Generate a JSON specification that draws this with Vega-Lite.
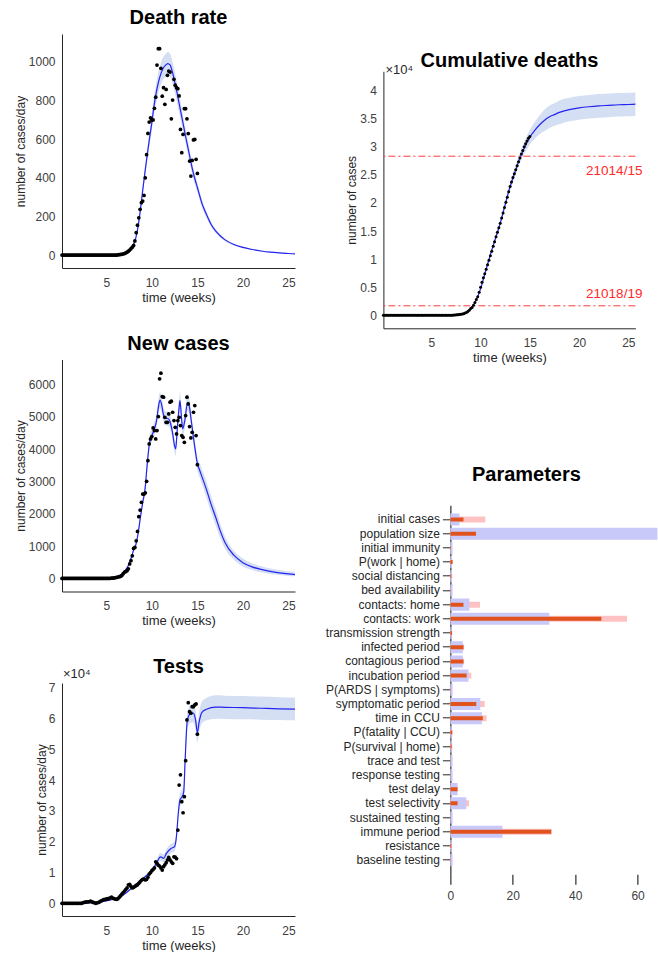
{
"$schema": "https://vega.github.io/schema/vega-lite/v6.json",
"padding": {"left": 14, "top": 8, "right": 0, "bottom": 0},
"config": {
  "font": "Liberation Sans",
  "view": {"stroke": null},
  "title": {"fontSize": 20, "fontWeight": "bold", "color": "#000000", "baseline": "alphabetic", "frame": "group", "anchor": "middle", "font": "Liberation Sans"},
  "axis": {"grid": false, "ticks": false, "domainColor": "#262626", "labelColor": "#404040", "labelFontSize": 12, "titleFontWeight": "normal", "titleColor": "#262626", "labelFont": "Liberation Sans", "titleFont": "Liberation Sans", "labelFlush": false, "labelOverlap": false, "tickCount": 30},
  "axisX": {"labelPadding": 9, "titlePadding": 3, "titleFontSize": 13},
  "axisY": {"labelPadding": 7, "titlePadding": 1, "titleFontSize": 12}
},
"datasets": {
"obs": [
{"t":0.143,"d":0,"n":0,"x":0,"c":0},{"t":0.286,"d":0,"n":0,"x":0,"c":0},{"t":0.429,"d":0,"n":0,"x":0,"c":0},{"t":0.571,"d":0,"n":0,"x":0,"c":0},{"t":0.714,"d":0,"n":0,"x":0,"c":0},{"t":0.857,"d":0,"n":0,"x":0,"c":0},{"t":1,"d":0,"n":0,"x":0,"c":0},
{"t":1.143,"d":0,"n":0,"x":0,"c":0},{"t":1.286,"d":0,"n":0,"x":0,"c":0},{"t":1.429,"d":0,"n":0,"x":0,"c":0},{"t":1.571,"d":0,"n":0,"x":0,"c":0},{"t":1.714,"d":0,"n":0,"x":0,"c":0},{"t":1.857,"d":0,"n":0,"x":0,"c":0},{"t":2,"d":0,"n":0,"x":0,"c":0},
{"t":2.143,"d":0,"n":0,"x":0,"c":0},{"t":2.286,"d":0,"n":0,"x":0,"c":0},{"t":2.429,"d":0,"n":0,"x":0.02,"c":0},{"t":2.571,"d":0,"n":0,"x":0.03,"c":0},{"t":2.714,"d":0,"n":0,"x":0.04,"c":0},{"t":2.857,"d":0,"n":0,"x":0.05,"c":0},{"t":3,"d":0,"n":0,"x":0.05,"c":0},
{"t":3.143,"d":0,"n":0,"x":0.06,"c":0},{"t":3.286,"d":0,"n":0,"x":0.07,"c":0},{"t":3.429,"d":0,"n":0,"x":0.05,"c":0},{"t":3.571,"d":0,"n":0,"x":0.03,"c":0},{"t":3.714,"d":0,"n":0,"x":0.02,"c":0},{"t":3.857,"d":0,"n":0,"x":0,"c":0},{"t":4,"d":0,"n":0,"x":0.02,"c":0},
{"t":4.143,"d":0,"n":0,"x":0.03,"c":0},{"t":4.286,"d":0,"n":0,"x":0.05,"c":0},{"t":4.429,"d":0,"n":0,"x":0.08,"c":0},{"t":4.571,"d":0,"n":0,"x":0.1,"c":0},{"t":4.714,"d":0,"n":0,"x":0.12,"c":0},{"t":4.857,"d":0,"n":0,"x":0.13,"c":0},{"t":5,"d":0,"n":0,"x":0.14,"c":0},
{"t":5.143,"d":0,"n":0,"x":0.15,"c":0},{"t":5.286,"d":0,"n":0,"x":0.15,"c":0},{"t":5.429,"d":0,"n":5,"x":0.18,"c":0},{"t":5.571,"d":0,"n":8,"x":0.2,"c":0},{"t":5.714,"d":0,"n":12,"x":0.17,"c":0},{"t":5.857,"d":0,"n":18,"x":0.15,"c":0},{"t":6,"d":0,"n":25,"x":0.14,"c":0},
{"t":6.143,"d":0,"n":35,"x":0.13,"c":0},{"t":6.286,"d":1,"n":45,"x":0.15,"c":0},{"t":6.429,"d":2,"n":55,"x":0.2,"c":0.001},{"t":6.571,"d":3,"n":65,"x":0.25,"c":0.001},{"t":6.714,"d":4,"n":90,"x":0.3,"c":0.002},{"t":6.857,"d":6,"n":150,"x":0.35,"c":0.002},{"t":7,"d":8,"n":200,"x":0.4,"c":0.003},
{"t":7.143,"d":11,"n":210,"x":0.45,"c":0.004},{"t":7.286,"d":15,"n":240,"x":0.5,"c":0.005},{"t":7.429,"d":20,"n":300,"x":0.6,"c":0.007},{"t":7.571,"d":26,"n":450,"x":0.62,"c":0.009},{"t":7.714,"d":33,"n":550,"x":0.55,"c":0.012},{"t":7.857,"d":41,"n":702,"x":0.5,"c":0.015},{"t":8,"d":50,"n":929,"x":0.52,"c":0.02},
{"t":8.143,"d":73,"n":960,"x":0.55,"c":0.025},{"t":8.286,"d":116,"n":1167,"x":0.58,"c":0.03},{"t":8.429,"d":155,"n":1456,"x":0.6,"c":0.04},{"t":8.571,"d":193,"n":1911,"x":0.65,"c":0.05},{"t":8.714,"d":237,"n":2117,"x":0.7,"c":0.07},{"t":8.857,"d":271,"n":2355,"x":0.75,"c":0.09},{"t":9,"d":280,"n":2613,"x":0.78,"c":0.12},
{"t":9.143,"d":309,"n":2613,"x":0.79,"c":0.14},{"t":9.286,"d":400,"n":2650,"x":0.76,"c":0.18},{"t":9.429,"d":520,"n":3005,"x":0.78,"c":0.23},{"t":9.571,"d":630,"n":3646,"x":0.85,"c":0.28},{"t":9.714,"d":689,"n":4162,"x":0.95,"c":0.33},{"t":9.857,"d":711,"n":4317,"x":1.0,"c":0.41},{"t":10,"d":699,"n":4389,"x":1.06,"c":0.5},
{"t":10.143,"d":700,"n":4658,"x":1.1,"c":0.59},{"t":10.286,"d":760,"n":4575,"x":1.15,"c":0.67},{"t":10.429,"d":818,"n":4317,"x":1.35,"c":0.74},{"t":10.571,"d":984,"n":4575,"x":1.3,"c":0.82},{"t":10.714,"d":1069,"n":5009,"x":1.24,"c":0.9},{"t":10.857,"d":1069,"n":6176,"x":1.21,"c":0.98},{"t":11,"d":967,"n":6351,"x":1.15,"c":1.06},
{"t":11.143,"d":823,"n":5628,"x":1.08,"c":1.14},{"t":11.286,"d":867,"n":5608,"x":1.19,"c":1.23},{"t":11.429,"d":781,"n":4988,"x":1.25,"c":1.31},{"t":11.571,"d":858,"n":4833,"x":1.32,"c":1.4},{"t":11.714,"d":931,"n":4833,"x":1.41,"c":1.48},{"t":11.857,"d":953,"n":5091,"x":1.49,"c":1.56},{"t":12,"d":948,"n":5453,"x":1.41,"c":1.64},
{"t":12.143,"d":706,"n":5484,"x":1.35,"c":1.73},{"t":12.286,"d":803,"n":5143,"x":1.3,"c":1.82},{"t":12.429,"d":910,"n":4885,"x":1.51,"c":1.92},{"t":12.571,"d":880,"n":4678,"x":1.5,"c":2.01},{"t":12.714,"d":867,"n":4472,"x":1.45,"c":2.1},{"t":12.857,"d":862,"n":4885,"x":2.38,"c":2.2},{"t":13,"d":824,"n":4988,"x":3.84,"c":2.29},
{"t":13.143,"d":651,"n":4730,"x":4.17,"c":2.37},{"t":13.286,"d":530,"n":4420,"x":3.3,"c":2.45},{"t":13.429,"d":625,"n":4368,"x":2.94,"c":2.52},{"t":13.571,"d":758,"n":4214,"x":3.46,"c":2.59},{"t":13.714,"d":758,"n":5040,"x":4.63,"c":2.66},{"t":13.857,"d":706,"n":5608,"x":5.95,"c":2.73},{"t":14,"d":629,"n":5401,"x":6.51,"c":2.8},
{"t":14.143,"d":487,"n":4699,"x":6.22,"c":2.87},{"t":14.286,"d":409,"n":4348,"x":6.17,"c":2.93},{"t":14.429,"d":490,"n":4523,"x":6.38,"c":3.0},{"t":14.571,"d":596,"n":5143,"x":6.38,"c":3.05},{"t":14.714,"d":599,"n":5350,"x":6.44,"c":3.1},{"t":14.857,"d":496,"n":4420,"x":6.47,"c":3.15},{"t":15,"d":423,"n":3522,"x":5.49,"c":3.18}
],
"md": [
{"t":0.143,"m":0,"lo":0,"hi":0},{"t":2,"m":0,"lo":0,"hi":0},{"t":4,"m":0,"lo":0,"hi":0},{"t":5,"m":0,"lo":0,"hi":0},{"t":5.5,"m":1,"lo":1,"hi":1},{"t":6,"m":2,"lo":2,"hi":2},{"t":6.5,"m":5,"lo":5,"hi":5},{"t":7,"m":10,"lo":9,"hi":11},{"t":7.5,"m":25,"lo":23,"hi":27},{"t":8,"m":55,"lo":51,"hi":59},{"t":8.25,"m":90,"lo":84,"hi":96},{"t":8.5,"m":150,"lo":141,"hi":159},{"t":8.75,"m":235,"lo":221,"hi":249},{"t":9,"m":335,"lo":315,"hi":355},{"t":9.25,"m":430,"lo":404,"hi":456},{"t":9.5,"m":520,"lo":489,"hi":551},{"t":9.75,"m":605,"lo":569,"hi":641},{"t":10,"m":685,"lo":644,"hi":726},{"t":10.25,"m":775,"lo":729,"hi":821},{"t":10.5,"m":845,"lo":794,"hi":896},{"t":10.75,"m":900,"lo":846,"hi":954},{"t":11,"m":940,"lo":884,"hi":996},{"t":11.25,"m":968,"lo":910,"hi":1026},{"t":11.5,"m":983,"lo":924,"hi":1042},{"t":11.75,"m":992,"lo":932,"hi":1052},{"t":12,"m":985,"lo":926,"hi":1044},{"t":12.25,"m":950,"lo":893,"hi":1007},{"t":12.5,"m":900,"lo":846,"hi":954},{"t":12.75,"m":845,"lo":794,"hi":896},{"t":13,"m":785,"lo":738,"hi":832},{"t":13.25,"m":725,"lo":682,"hi":769},{"t":13.5,"m":665,"lo":625,"hi":705},{"t":13.75,"m":605,"lo":569,"hi":641},{"t":14,"m":548,"lo":513,"hi":583},{"t":14.25,"m":490,"lo":458,"hi":522},{"t":14.5,"m":436,"lo":406,"hi":466},{"t":14.75,"m":390,"lo":362,"hi":418},{"t":15,"m":350,"lo":324,"hi":376},{"t":15.5,"m":268,"lo":247,"hi":289},{"t":16,"m":210,"lo":193,"hi":227},{"t":16.5,"m":160,"lo":147,"hi":173},{"t":17,"m":125,"lo":115,"hi":135},{"t":17.5,"m":100,"lo":92,"hi":108},{"t":18,"m":80,"lo":73,"hi":87},{"t":19,"m":55,"lo":50,"hi":60},{"t":20,"m":40,"lo":36,"hi":44},{"t":21,"m":29,"lo":26,"hi":32},{"t":22,"m":21,"lo":19,"hi":23},{"t":23,"m":15,"lo":13,"hi":17},{"t":24,"m":11,"lo":10,"hi":12},{"t":25,"m":8,"lo":7,"hi":9},{"t":25.714,"m":6,"lo":5,"hi":7}
],
"mc": [
{"t":0.143,"m":0,"lo":0,"hi":0},{"t":2,"m":0,"lo":0,"hi":0},{"t":4,"m":0,"lo":0,"hi":0},{"t":6,"m":0.001,"lo":0.001,"hi":0.001},{"t":7,"m":0.005,"lo":0.004,"hi":0.006},{"t":7.5,"m":0.012,"lo":0.01,"hi":0.014},{"t":8,"m":0.025,"lo":0.022,"hi":0.028},{"t":8.5,"m":0.05,"lo":0.045,"hi":0.055},{"t":9,"m":0.12,"lo":0.11,"hi":0.13},{"t":9.5,"m":0.25,"lo":0.235,"hi":0.265},{"t":10,"m":0.47,"lo":0.45,"hi":0.49},{"t":10.5,"m":0.78,"lo":0.75,"hi":0.81},{"t":11,"m":1.08,"lo":1.05,"hi":1.11},{"t":11.5,"m":1.36,"lo":1.32,"hi":1.4},{"t":12,"m":1.64,"lo":1.59,"hi":1.69},{"t":12.5,"m":1.97,"lo":1.91,"hi":2.03},{"t":13,"m":2.29,"lo":2.22,"hi":2.36},{"t":13.5,"m":2.55,"lo":2.47,"hi":2.63},{"t":14,"m":2.8,"lo":2.71,"hi":2.89},{"t":14.5,"m":3.0,"lo":2.89,"hi":3.11},{"t":15,"m":3.17,"lo":3.04,"hi":3.3},{"t":15.5,"m":3.29,"lo":3.14,"hi":3.44},{"t":16,"m":3.39,"lo":3.22,"hi":3.56},{"t":16.5,"m":3.47,"lo":3.28,"hi":3.66},{"t":17,"m":3.53,"lo":3.33,"hi":3.73},{"t":17.5,"m":3.57,"lo":3.37,"hi":3.77},{"t":18,"m":3.61,"lo":3.4,"hi":3.82},{"t":19,"m":3.66,"lo":3.45,"hi":3.87},{"t":20,"m":3.69,"lo":3.48,"hi":3.9},{"t":21,"m":3.71,"lo":3.5,"hi":3.92},{"t":22,"m":3.725,"lo":3.515,"hi":3.935},{"t":23,"m":3.735,"lo":3.525,"hi":3.945},{"t":24,"m":3.745,"lo":3.535,"hi":3.955},{"t":25,"m":3.75,"lo":3.54,"hi":3.96},{"t":25.714,"m":3.755,"lo":3.545,"hi":3.965}
],
"mn": [
{"t":0.143,"m":0,"lo":0,"hi":0},{"t":2,"m":0,"lo":0,"hi":0},{"t":4,"m":0,"lo":0,"hi":0},{"t":5,"m":5,"lo":5,"hi":5},{"t":5.5,"m":15,"lo":14,"hi":16},{"t":6,"m":40,"lo":38,"hi":42},{"t":6.5,"m":100,"lo":95,"hi":105},{"t":7,"m":220,"lo":209,"hi":231},{"t":7.5,"m":450,"lo":428,"hi":472},{"t":7.75,"m":650,"lo":618,"hi":683},{"t":8,"m":880,"lo":836,"hi":924},{"t":8.25,"m":1050,"lo":998,"hi":1103},{"t":8.5,"m":1400,"lo":1330,"hi":1470},{"t":8.75,"m":1900,"lo":1805,"hi":1995},{"t":9,"m":2350,"lo":2233,"hi":2468},{"t":9.25,"m":2750,"lo":2613,"hi":2888},{"t":9.5,"m":3550,"lo":3373,"hi":3728},{"t":9.75,"m":4200,"lo":4010,"hi":4390},{"t":10,"m":4420,"lo":4220,"hi":4620},{"t":10.25,"m":4600,"lo":4390,"hi":4810},{"t":10.5,"m":4850,"lo":4630,"hi":5070},{"t":10.75,"m":5350,"lo":5110,"hi":5590},{"t":10.9,"m":5520,"lo":5270,"hi":5770},{"t":11.1,"m":5350,"lo":5110,"hi":5590},{"t":11.25,"m":5100,"lo":4870,"hi":5330},{"t":11.5,"m":4950,"lo":4730,"hi":5170},{"t":11.75,"m":4950,"lo":4730,"hi":5170},{"t":12,"m":4850,"lo":4630,"hi":5070},{"t":12.25,"m":4550,"lo":4340,"hi":4760},{"t":12.5,"m":4100,"lo":3900,"hi":4300},{"t":12.62,"m":4010,"lo":3800,"hi":4220},{"t":12.8,"m":4650,"lo":4420,"hi":4880},{"t":13,"m":5300,"lo":5050,"hi":5550},{"t":13.09,"m":5500,"lo":5240,"hi":5760},{"t":13.25,"m":5000,"lo":4760,"hi":5240},{"t":13.38,"m":4630,"lo":4400,"hi":4860},{"t":13.6,"m":4850,"lo":4610,"hi":5090},{"t":13.93,"m":5450,"lo":5190,"hi":5710},{"t":14.1,"m":5350,"lo":5090,"hi":5610},{"t":14.3,"m":4950,"lo":4700,"hi":5200},{"t":14.55,"m":4400,"lo":4170,"hi":4630},{"t":14.8,"m":3900,"lo":3690,"hi":4110},{"t":15,"m":3550,"lo":3340,"hi":3760},{"t":15.25,"m":3350,"lo":3130,"hi":3570},{"t":15.5,"m":3150,"lo":2920,"hi":3380},{"t":16,"m":2750,"lo":2500,"hi":3000},{"t":16.5,"m":2300,"lo":2050,"hi":2550},{"t":17,"m":1900,"lo":1650,"hi":2150},{"t":17.5,"m":1480,"lo":1260,"hi":1700},{"t":18,"m":1130,"lo":940,"hi":1320},{"t":19,"m":720,"lo":580,"hi":860},{"t":20,"m":490,"lo":370,"hi":620},{"t":21,"m":360,"lo":260,"hi":470},{"t":22,"m":280,"lo":190,"hi":380},{"t":23,"m":220,"lo":140,"hi":310},{"t":24,"m":175,"lo":110,"hi":260},{"t":25,"m":140,"lo":80,"hi":220},{"t":25.714,"m":120,"lo":65,"hi":200}
],
"mt": [
{"t":0.143,"m":0,"lo":0,"hi":0},{"t":2,"m":0.01,"lo":0.01,"hi":0.01},{"t":4,"m":0.03,"lo":0.02,"hi":0.04},{"t":5,"m":0.08,"lo":0.07,"hi":0.09},{"t":6,"m":0.15,"lo":0.14,"hi":0.16},{"t":6.5,"m":0.2,"lo":0.19,"hi":0.21},{"t":7,"m":0.3,"lo":0.28,"hi":0.32},{"t":7.5,"m":0.42,"lo":0.4,"hi":0.44},{"t":8,"m":0.55,"lo":0.52,"hi":0.58},{"t":8.5,"m":0.68,"lo":0.64,"hi":0.72},{"t":9,"m":0.8,"lo":0.75,"hi":0.85},{"t":9.5,"m":0.92,"lo":0.86,"hi":0.98},{"t":10,"m":1.05,"lo":0.97,"hi":1.13},{"t":10.5,"m":1.3,"lo":1.2,"hi":1.4},{"t":10.95,"m":1.51,"lo":1.38,"hi":1.64},{"t":11.3,"m":1.46,"lo":1.33,"hi":1.59},{"t":11.6,"m":1.62,"lo":1.48,"hi":1.76},{"t":12.1,"m":1.78,"lo":1.63,"hi":1.93},{"t":12.5,"m":1.84,"lo":1.68,"hi":2.0},{"t":12.7,"m":2.16,"lo":1.98,"hi":2.34},{"t":12.9,"m":2.9,"lo":2.7,"hi":3.1},{"t":13.09,"m":3.36,"lo":3.14,"hi":3.58},{"t":13.3,"m":3.45,"lo":3.22,"hi":3.68},{"t":13.5,"m":3.6,"lo":3.36,"hi":3.84},{"t":13.65,"m":4.6,"lo":4.35,"hi":4.85},{"t":13.9,"m":5.95,"lo":5.68,"hi":6.22},{"t":14.25,"m":6.15,"lo":5.86,"hi":6.44},{"t":14.55,"m":6.17,"lo":5.87,"hi":6.47},{"t":14.8,"m":5.95,"lo":5.64,"hi":6.26},{"t":15,"m":5.55,"lo":5.23,"hi":5.87},{"t":15.2,"m":5.9,"lo":5.57,"hi":6.23},{"t":15.5,"m":6.2,"lo":5.85,"hi":6.55},{"t":16,"m":6.3,"lo":5.94,"hi":6.66},{"t":17,"m":6.37,"lo":5.99,"hi":6.75},{"t":18,"m":6.36,"lo":5.98,"hi":6.74},{"t":20,"m":6.35,"lo":5.97,"hi":6.73},{"t":22,"m":6.33,"lo":5.96,"hi":6.71},{"t":24,"m":6.31,"lo":5.95,"hi":6.69},{"t":25.714,"m":6.3,"lo":5.94,"hi":6.68}
],
"par": [
{"p":"initial cases","v1":2.9,"v2":11.2,"v3":4.2},
{"p":"population size","v1":70,"v2":8.5,"v3":8.2},
{"p":"initial immunity","v1":0.7,"v2":0.3,"v3":0.2},
{"p":"P(work | home)","v1":0.5,"v2":0.7,"v3":0.7},
{"p":"social distancing","v1":0.5,"v2":0.6,"v3":0.3},
{"p":"bed availability","v1":0.7,"v2":0.2,"v3":0.1},
{"p":"contacts: home","v1":6.1,"v2":9.5,"v3":4.2},
{"p":"contacts: work","v1":31.7,"v2":56.6,"v3":48.4},
{"p":"transmission strength","v1":0.4,"v2":0.6,"v3":0.5},
{"p":"infected period","v1":4.0,"v2":4.4,"v3":4.2},
{"p":"contagious period","v1":4.0,"v2":4.4,"v3":4.2},
{"p":"incubation period","v1":5.8,"v2":6.7,"v3":5.2},
{"p":"P(ARDS | symptoms)","v1":0.7,"v2":0.2,"v3":0.1},
{"p":"symptomatic period","v1":9.6,"v2":11.0,"v3":8.3},
{"p":"time in CCU","v1":10.1,"v2":11.6,"v3":10.4},
{"p":"P(fatality | CCU)","v1":0.4,"v2":0.7,"v3":0.6},
{"p":"P(survival | home)","v1":0.4,"v2":0.6,"v3":0.4},
{"p":"trace and test","v1":0.7,"v2":0.1,"v3":0.05},
{"p":"response testing","v1":0.7,"v2":0.1,"v3":0.05},
{"p":"test delay","v1":2.3,"v2":2.3,"v3":2.3},
{"p":"test selectivity","v1":5.1,"v2":6.0,"v3":2.3},
{"p":"sustained testing","v1":0.7,"v2":0.1,"v3":0.05},
{"p":"immune period","v1":16.7,"v2":32.5,"v3":32.3},
{"p":"resistance","v1":0.4,"v2":0.6,"v3":0.3},
{"p":"baseline testing","v1":0.7,"v2":0.2,"v3":0.1}
]
},
"hconcat": [
{
"vconcat": [
{
 "width": 233, "height": 234,
 "title": {"text": "Death rate", "offset": 5.7},
 "encoding": {"x": {"field": "t", "type": "quantitative", "scale": {"domain": [0.143, 25.714], "nice": false, "zero": false}, "axis": {"values": [5,10,15,20,25], "format": "d", "title": "time (weeks)"}}},
 "layer": [
  {"data": {"name": "md"}, "mark": {"type": "area", "color": "#d5dff3", "interpolate": "monotone"}, "encoding": {"y": {"field": "lo", "type": "quantitative", "scale": {"domain": [-67, 1145], "nice": false, "zero": false}, "axis": {"values": [0,200,400,600,800,1000], "format": "d"}, "title": "number of cases/day"}, "y2": {"field": "hi"}}},
  {"data": {"name": "md"}, "mark": {"type": "line", "color": "#2424f0", "strokeWidth": 1.2, "interpolate": "monotone"}, "encoding": {"y": {"field": "m", "type": "quantitative", "title": "number of cases/day"}}},
  {"data": {"name": "obs"}, "mark": {"type": "circle", "color": "#000000", "size": 14, "opacity": 1}, "encoding": {"y": {"field": "d", "type": "quantitative", "title": "number of cases/day"}}}
 ]
},
{
 "width": 233, "height": 232,
 "title": {"text": "New cases", "offset": 5.5},
 "encoding": {"x": {"field": "t", "type": "quantitative", "scale": {"domain": [0.143, 25.714], "nice": false, "zero": false}, "axis": {"values": [5,10,15,20,25], "format": "d", "title": "time (weeks)"}}},
 "layer": [
  {"data": {"name": "mn"}, "mark": {"type": "area", "color": "#d5dff3", "interpolate": "monotone"}, "encoding": {"y": {"field": "lo", "type": "quantitative", "scale": {"domain": [-403, 6775], "nice": false, "zero": false}, "axis": {"values": [0,1000,2000,3000,4000,5000,6000], "format": "d"}, "title": "number of cases/day"}, "y2": {"field": "hi"}}},
  {"data": {"name": "mn"}, "mark": {"type": "line", "color": "#2424f0", "strokeWidth": 1.2, "interpolate": "monotone"}, "encoding": {"y": {"field": "m", "type": "quantitative", "title": "number of cases/day"}}},
  {"data": {"name": "obs"}, "mark": {"type": "circle", "color": "#000000", "size": 14, "opacity": 1}, "encoding": {"y": {"field": "n", "type": "quantitative", "title": "number of cases/day"}}}
 ]
},
{
 "width": 233, "height": 233,
 "title": {"text": "Tests", "offset": -9},
 "encoding": {"x": {"field": "t", "type": "quantitative", "scale": {"domain": [0.143, 25.714], "nice": false, "zero": false}, "axis": {"values": [5,10,15,20,25], "format": "d", "title": "time (weeks)"}}},
 "layer": [
  {"data": {"name": "mt"}, "mark": {"type": "area", "color": "#d5dff3", "interpolate": "monotone"}, "encoding": {"y": {"field": "lo", "type": "quantitative", "scale": {"domain": [-0.41, 7.15], "nice": false, "zero": false}, "axis": {"values": [0,1,2,3,4,5,6,7], "format": "d", "minExtent": 47, "titleX": -14}, "title": "number of cases/day"}, "y2": {"field": "hi"}}},
  {"data": {"name": "mt"}, "mark": {"type": "line", "color": "#2424f0", "strokeWidth": 1.2, "interpolate": "monotone"}, "encoding": {"y": {"field": "m", "type": "quantitative", "title": "number of cases/day"}}},
  {"data": {"name": "obs"}, "mark": {"type": "circle", "color": "#000000", "size": 14, "opacity": 1}, "encoding": {"y": {"field": "x", "type": "quantitative", "title": "number of cases/day"}}},
  {"data": {"values": [{"t": 0.143, "v": 7.15, "s": "×10⁴"}]}, "mark": {"type": "text", "align": "left", "baseline": "alphabetic", "dx": 1, "dy": -5, "fontSize": 13, "color": "#262626"}, "encoding": {"y": {"field": "v", "type": "quantitative", "title": "number of cases/day"}, "text": {"field": "s"}}}
 ]
}
],
"spacing": 29.5
},
{
"vconcat": [
 {"width": 1, "height": 10, "data": {"values": [{"s": ""}]}, "mark": {"type": "point", "opacity": 0}},
 {
 "vconcat": [
  {
   "width": 252, "height": 257,
   "title": {"text": "Cumulative deaths", "offset": -7},
   "layer": [
    {"data": {"name": "mc"}, "mark": {"type": "area", "color": "#d5dff3", "interpolate": "monotone"}, "encoding": {"x": {"field": "t", "type": "quantitative", "scale": {"domain": [0.143, 25.714], "nice": false, "zero": false}, "axis": {"values": [5,10,15,20,25], "format": "d", "title": "time (weeks)"}}, "y": {"field": "lo", "type": "quantitative", "scale": {"domain": [-0.23, 4.34], "nice": false, "zero": false}, "axis": {"values": [0,0.5,1,1.5,2,2.5,3,3.5,4], "format": "~g", "minExtent": 40, "titleX": -25}, "title": "number of cases"}, "y2": {"field": "hi"}}},
    {"data": {"name": "mc"}, "mark": {"type": "line", "color": "#2424f0", "strokeWidth": 1.2, "interpolate": "monotone"}, "encoding": {"x": {"field": "t", "type": "quantitative", "title": "time (weeks)"}, "y": {"field": "m", "type": "quantitative", "title": "number of cases"}}},
    {"data": {"values": [{"y": 2.83}, {"y": 0.17}]}, "mark": {"type": "rule", "color": "#ff3b3b", "strokeWidth": 1, "strokeDash": [7, 3, 2, 3]}, "encoding": {"y": {"field": "y", "type": "quantitative", "title": "number of cases"}}},
    {"data": {"values": [{"t": 25.714, "y": 2.83, "lab": "21014/15"}]}, "mark": {"type": "text", "align": "right", "baseline": "top", "dx": 7, "dy": 8, "fontSize": 13.5, "color": "#ff2a2a"}, "encoding": {"x": {"field": "t", "type": "quantitative", "title": "time (weeks)"}, "y": {"field": "y", "type": "quantitative", "title": "number of cases"}, "text": {"field": "lab"}}},
    {"data": {"values": [{"t": 25.714, "y": 0.17, "lab": "21018/19"}]}, "mark": {"type": "text", "align": "right", "baseline": "bottom", "dx": 7, "dy": -5, "fontSize": 13.5, "color": "#ff2a2a"}, "encoding": {"x": {"field": "t", "type": "quantitative", "title": "time (weeks)"}, "y": {"field": "y", "type": "quantitative", "title": "number of cases"}, "text": {"field": "lab"}}},
    {"data": {"name": "obs"}, "mark": {"type": "circle", "color": "#000000", "size": 9, "opacity": 1}, "encoding": {"x": {"field": "t", "type": "quantitative", "title": "time (weeks)"}, "y": {"field": "c", "type": "quantitative", "title": "number of cases"}}},
    {"data": {"values": [{"t": 0.143, "v": 4.34, "s": "×10⁴"}]}, "mark": {"type": "text", "align": "left", "baseline": "alphabetic", "dx": 2, "dy": 3, "fontSize": 13, "color": "#262626"}, "encoding": {"x": {"field": "t", "type": "quantitative", "title": "time (weeks)"}, "y": {"field": "v", "type": "quantitative", "title": "number of cases"}, "text": {"field": "s"}}}
   ]
  },
  {
   "width": 274, "height": 369,
   "title": {"text": "Parameters", "offset": 20.3, "dx": 6},
   "data": {"name": "par"},
   "encoding": {"y": {"field": "p", "type": "nominal", "sort": null, "scale": {"paddingInner": 0, "paddingOuter": 0.5}, "axis": {"title": null, "offset": -67, "ticks": true, "tickSize": 8, "tickColor": "#262626", "labelPadding": 3, "labelFontSize": 12, "labelColor": "#262626", "domainColor": "#000000", "labelLimit": 300}}},
   "layer": [
    {"mark": {"type": "bar", "color": "#ffc2c2", "height": {"band": 0.42}, "clip": true}, "encoding": {"x": {"field": "v2", "type": "quantitative", "scale": {"domain": [-21.47, 66.35], "nice": false, "zero": false}, "axis": {"values": [0,20,40,60], "format": "d", "domain": false, "ticks": true, "tickSize": 10, "tickColor": "#000000", "labelPadding": 6, "title": null}}}},
    {"mark": {"type": "bar", "color": "#c9c9f9", "height": {"band": 0.85}, "clip": true}, "encoding": {"x": {"field": "v1", "type": "quantitative", "title": null}}},
    {"mark": {"type": "bar", "color": "#e0521e", "height": {"band": 0.28}, "clip": true}, "encoding": {"x": {"field": "v3", "type": "quantitative", "title": null}}}
   ]
  }
 ],
 "spacing": 100
 }
],
"spacing": 7.3
}
],
"spacing": 26.4
}
